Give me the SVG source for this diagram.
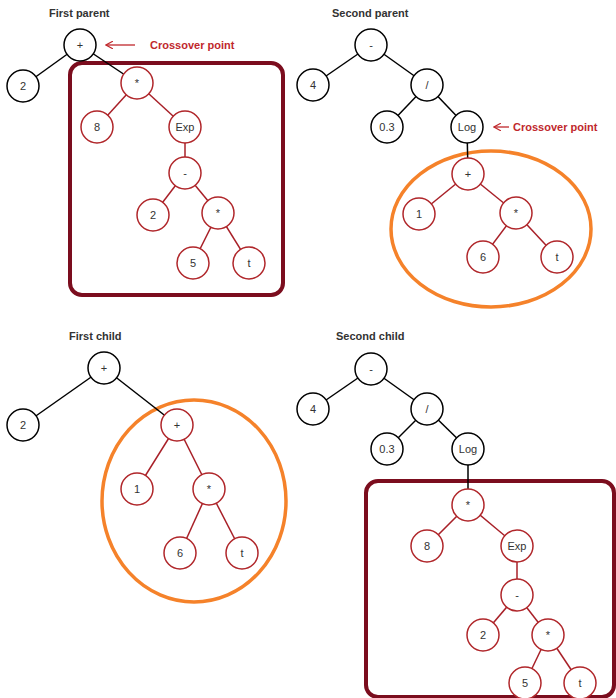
<svg xmlns="http://www.w3.org/2000/svg" width="616" height="698" viewBox="0 0 616 698">
<defs>
<style>
.bg{fill:#fff}
.title{font-family:"Liberation Sans",Arial,sans-serif;font-size:11px;font-weight:bold;fill:#333}
.cp{font-family:"Liberation Sans",Arial,sans-serif;font-size:11px;font-weight:bold;fill:#C0282C}
.lbl{font-family:"Liberation Sans",Arial,sans-serif;font-size:11px;fill:#333;text-anchor:middle;dominant-baseline:central}
.nb circle{fill:#fff;stroke:#000;stroke-width:1.5}
.nr circle{fill:#fff;stroke:#B0262A;stroke-width:1.5}
.eb{stroke:#000;stroke-width:1.5;fill:none}
.er{stroke:#A82028;stroke-width:1.5;fill:none}
.box{fill:none;stroke:#7B0D1E;stroke-width:4}
.oval{fill:none;stroke:#F5822A;stroke-width:3.5}
.arr{stroke:#C0282C;stroke-width:1.3;fill:none}
</style>
<marker id="ah" viewBox="0 0 10 10" refX="9" refY="5" markerWidth="8" markerHeight="8" orient="auto" markerUnits="userSpaceOnUse">
<path d="M0,0 L9,5 L0,10" fill="none" stroke="#C0282C" stroke-width="1.5"/>
</marker>
</defs>
<rect class="bg" x="0" y="0" width="616" height="698"/>

<!-- titles -->
<text class="title" x="49" y="17">First parent</text>
<text class="title" x="332" y="17">Second parent</text>
<text class="title" x="69" y="340">First child</text>
<text class="title" x="336" y="340">Second child</text>

<!-- highlight shapes -->
<rect class="box" x="70" y="63" width="213" height="232" rx="12"/>
<ellipse class="oval" cx="491" cy="229" rx="100" ry="78"/>
<ellipse class="oval" cx="194" cy="501" rx="92" ry="101"/>
<rect class="box" x="366" y="481" width="248" height="216" rx="12"/>

<!-- crossover annotations -->
<g id="cp1">
<line class="arr" x1="135" y1="45" x2="106" y2="45" marker-end="url(#ah)"/>
<text class="cp" x="150" y="49">Crossover point</text>
</g>
<g id="cp2">
<line class="arr" x1="509" y1="127" x2="494" y2="127" marker-end="url(#ah)"/>
<text class="cp" x="513" y="131">Crossover point</text>
</g>

<g id="connectors">
<!-- first parent -->
<line class="eb" x1="80" y1="45" x2="23" y2="86"/>
<line class="eb" x1="80" y1="45" x2="137" y2="83"/>
<line class="er" x1="137" y1="83" x2="97" y2="127"/>
<line class="er" x1="137" y1="83" x2="185" y2="127"/>
<line class="er" x1="185" y1="127" x2="185" y2="173"/>
<line class="er" x1="185" y1="173" x2="153" y2="215"/>
<line class="er" x1="185" y1="173" x2="218" y2="213"/>
<line class="er" x1="218" y1="213" x2="193" y2="263"/>
<line class="er" x1="218" y1="213" x2="249" y2="263"/>
<!-- second parent -->
<line class="eb" x1="371" y1="45" x2="313" y2="85"/>
<line class="eb" x1="371" y1="45" x2="427" y2="85"/>
<line class="eb" x1="427" y1="85" x2="387" y2="127"/>
<line class="eb" x1="427" y1="85" x2="467" y2="127"/>
<line class="eb" x1="467" y1="127" x2="468" y2="174"/>
<line class="er" x1="468" y1="174" x2="419" y2="214"/>
<line class="er" x1="468" y1="174" x2="516" y2="213"/>
<line class="er" x1="516" y1="213" x2="483" y2="257"/>
<line class="er" x1="516" y1="213" x2="557" y2="257"/>
<!-- first child -->
<line class="eb" x1="104" y1="368" x2="23" y2="425"/>
<line class="eb" x1="104" y1="368" x2="177" y2="425"/>
<line class="er" x1="177" y1="425" x2="137" y2="489"/>
<line class="er" x1="177" y1="425" x2="209" y2="489"/>
<line class="er" x1="209" y1="489" x2="180" y2="553"/>
<line class="er" x1="209" y1="489" x2="242" y2="553"/>
<!-- second child -->
<line class="eb" x1="371" y1="369" x2="313" y2="409"/>
<line class="eb" x1="371" y1="369" x2="427" y2="409"/>
<line class="eb" x1="427" y1="409" x2="387" y2="449"/>
<line class="eb" x1="427" y1="409" x2="468" y2="449"/>
<line class="eb" x1="468" y1="449" x2="468" y2="505"/>
<line class="er" x1="468" y1="505" x2="427" y2="546"/>
<line class="er" x1="468" y1="505" x2="517" y2="546"/>
<line class="er" x1="517" y1="546" x2="517" y2="595"/>
<line class="er" x1="517" y1="595" x2="483" y2="635"/>
<line class="er" x1="517" y1="595" x2="548" y2="635"/>
<line class="er" x1="548" y1="635" x2="525" y2="683"/>
<line class="er" x1="548" y1="635" x2="580" y2="683"/>
</g>

<!-- first parent nodes -->
<g id="p1_plus" class="nb"><circle cx="80" cy="45" r="16"/><text class="lbl" x="80" y="45">+</text></g>
<g id="p1_2" class="nb"><circle cx="23" cy="86" r="16"/><text class="lbl" x="23" y="86">2</text></g>
<g id="p1_mul" class="nr"><circle cx="137" cy="83" r="16"/><text class="lbl" x="137" y="83">*</text></g>
<g id="p1_8" class="nr"><circle cx="97" cy="127" r="16"/><text class="lbl" x="97" y="127">8</text></g>
<g id="p1_exp" class="nr"><circle cx="185" cy="127" r="16"/><text class="lbl" x="185" y="127">Exp</text></g>
<g id="p1_minus" class="nr"><circle cx="185" cy="173" r="16"/><text class="lbl" x="185" y="173">-</text></g>
<g id="p1_2b" class="nr"><circle cx="153" cy="215" r="16"/><text class="lbl" x="153" y="215">2</text></g>
<g id="p1_mul2" class="nr"><circle cx="218" cy="213" r="16"/><text class="lbl" x="218" y="213">*</text></g>
<g id="p1_5" class="nr"><circle cx="193" cy="263" r="16"/><text class="lbl" x="193" y="263">5</text></g>
<g id="p1_t" class="nr"><circle cx="249" cy="263" r="16"/><text class="lbl" x="249" y="263">t</text></g>

<!-- second parent nodes -->
<g id="p2_minus" class="nb"><circle cx="371" cy="45" r="16"/><text class="lbl" x="371" y="45">-</text></g>
<g id="p2_4" class="nb"><circle cx="313" cy="85" r="16"/><text class="lbl" x="313" y="85">4</text></g>
<g id="p2_div" class="nb"><circle cx="427" cy="85" r="16"/><text class="lbl" x="427" y="85">/</text></g>
<g id="p2_03" class="nb"><circle cx="387" cy="127" r="16"/><text class="lbl" x="387" y="127">0.3</text></g>
<g id="p2_log" class="nb"><circle cx="467" cy="127" r="16"/><text class="lbl" x="467" y="127">Log</text></g>
<g id="p2_plus" class="nr"><circle cx="468" cy="174" r="16"/><text class="lbl" x="468" y="174">+</text></g>
<g id="p2_1" class="nr"><circle cx="419" cy="214" r="16"/><text class="lbl" x="419" y="214">1</text></g>
<g id="p2_mul" class="nr"><circle cx="516" cy="213" r="16"/><text class="lbl" x="516" y="213">*</text></g>
<g id="p2_6" class="nr"><circle cx="483" cy="257" r="16"/><text class="lbl" x="483" y="257">6</text></g>
<g id="p2_t" class="nr"><circle cx="557" cy="257" r="16"/><text class="lbl" x="557" y="257">t</text></g>

<!-- first child nodes -->
<g id="c1_plus" class="nb"><circle cx="104" cy="368" r="16"/><text class="lbl" x="104" y="368">+</text></g>
<g id="c1_2" class="nb"><circle cx="23" cy="425" r="16"/><text class="lbl" x="23" y="425">2</text></g>
<g id="c1_plus2" class="nr"><circle cx="177" cy="425" r="16"/><text class="lbl" x="177" y="425">+</text></g>
<g id="c1_1" class="nr"><circle cx="137" cy="489" r="16"/><text class="lbl" x="137" y="489">1</text></g>
<g id="c1_mul" class="nr"><circle cx="209" cy="489" r="16"/><text class="lbl" x="209" y="489">*</text></g>
<g id="c1_6" class="nr"><circle cx="180" cy="553" r="16"/><text class="lbl" x="180" y="553">6</text></g>
<g id="c1_t" class="nr"><circle cx="242" cy="553" r="16"/><text class="lbl" x="242" y="553">t</text></g>

<!-- second child nodes -->
<g id="c2_minus" class="nb"><circle cx="371" cy="369" r="16"/><text class="lbl" x="371" y="369">-</text></g>
<g id="c2_4" class="nb"><circle cx="313" cy="409" r="16"/><text class="lbl" x="313" y="409">4</text></g>
<g id="c2_div" class="nb"><circle cx="427" cy="409" r="16"/><text class="lbl" x="427" y="409">/</text></g>
<g id="c2_03" class="nb"><circle cx="387" cy="449" r="16"/><text class="lbl" x="387" y="449">0.3</text></g>
<g id="c2_log" class="nb"><circle cx="468" cy="449" r="16"/><text class="lbl" x="468" y="449">Log</text></g>
<g id="c2_mul" class="nr"><circle cx="468" cy="505" r="16"/><text class="lbl" x="468" y="505">*</text></g>
<g id="c2_8" class="nr"><circle cx="427" cy="546" r="16"/><text class="lbl" x="427" y="546">8</text></g>
<g id="c2_exp" class="nr"><circle cx="517" cy="546" r="16"/><text class="lbl" x="517" y="546">Exp</text></g>
<g id="c2_minus2" class="nr"><circle cx="517" cy="595" r="16"/><text class="lbl" x="517" y="595">-</text></g>
<g id="c2_2" class="nr"><circle cx="483" cy="635" r="16"/><text class="lbl" x="483" y="635">2</text></g>
<g id="c2_mul2" class="nr"><circle cx="548" cy="635" r="16"/><text class="lbl" x="548" y="635">*</text></g>
<g id="c2_5" class="nr"><circle cx="525" cy="683" r="16"/><text class="lbl" x="525" y="683">5</text></g>
<g id="c2_t" class="nr"><circle cx="580" cy="683" r="16"/><text class="lbl" x="580" y="683">t</text></g>
</svg>
